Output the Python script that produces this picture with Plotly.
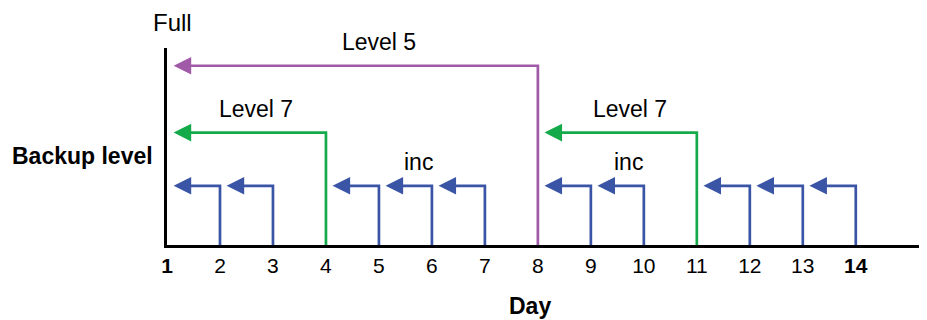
import plotly.graph_objects as go

# backup schedule: day, level it belongs to, and the earlier backup it refers to
days = [2, 3, 4, 5, 6, 7, 8, 9, 10, 11, 12, 13, 14]
kinds = ["inc", "inc", "L7", "inc", "inc", "inc", "L5", "inc", "inc", "L7", "inc", "inc", "inc"]
ref_days = [1, 2, 1, 4, 5, 6, 1, 8, 9, 8, 11, 12, 13]

# bar height of each backup level (Full sits at the top of the axis)
level_height = {"inc": 1.0, "L7": 1.9, "L5": 3.03}
level_color = {"inc": "#3b55a6", "L7": "#14aa4a", "L5": "#a15aa8"}

tick_days = list(range(1, 15))
tick_text = ["<b>1</b>"] + [str(d) for d in range(2, 14)] + ["<b>14</b>"]

# text labels over the arrows
label_text = ["Level 5", "Level 7", "Level 7", "inc", "inc"]
label_x = [5.01, 2.68, 9.73, 5.75, 9.71]
label_kind = ["L5", "L7", "L7", "inc", "inc"]

# page has an 8px body margin, so the figure is sized to fit the window
W, H = 919, 312
L, R, T, B = 159, 5, 40, 75

tip_gap = 0.125
fig = go.Figure()
for d, k, r in zip(days, kinds, ref_days):
    h = level_height[k]
    c = level_color[k]
    tip = r + tip_gap
    fig.add_trace(go.Scatter(x=[d, d, tip + 0.15], y=[0, h, h], mode="lines",
                             line=dict(color=c, width=2.7), hoverinfo="skip",
                             showlegend=False))
    fig.add_annotation(x=tip, y=h, ax=tip + 0.3, ay=h, xref="x", yref="y",
                       axref="x", ayref="y", text="", showarrow=True,
                       arrowhead=2, arrowsize=1.3, arrowwidth=2.7,
                       arrowcolor=c, standoff=0)

for t, x, k in zip(label_text, label_x, label_kind):
    fig.add_annotation(x=x, y=level_height[k], xref="x", yref="y", text=t,
                       showarrow=False, yshift=24, xanchor="center",
                       yanchor="middle", font=dict(size=23, color="black"))

fig.update_layout(
    width=W, height=H,
    margin=dict(l=L, r=R, t=T, b=B, autoexpand=False),
    paper_bgcolor="white", plot_bgcolor="white",
    font=dict(family="Liberation Sans, Arial, sans-serif", color="black"),
    xaxis=dict(range=[1, 15.25], tickmode="array", tickvals=tick_days,
               ticktext=tick_text, showgrid=False, zeroline=False,
               showline=True, linecolor="black", linewidth=3, ticks="",
               tickfont=dict(size=21, color="black"), fixedrange=True),
    yaxis=dict(range=[0, 3.33], showgrid=False, zeroline=False,
               showline=True, linecolor="black", linewidth=3,
               showticklabels=False, ticks="", fixedrange=True),
)

pw, ph = W - L - R, H - T - B


def to_paper(page_x, page_y):
    fx, fy = page_x - 8, page_y - 8
    return (fx - L) / pw, (H - B - fy) / ph


for txt, (xp, yp), size, bold in [("Full", (172.5, 23), 24, False),
                                  ("Backup level", (82.5, 156), 23, True),
                                  ("Day", (529.5, 306), 23, True)]:
    xx, yy = to_paper(xp, yp)
    fig.add_annotation(x=xx, y=yy, xref="paper", yref="paper",
                       xanchor="center", yanchor="middle",
                       text=f"<b>{txt}</b>" if bold else txt, showarrow=False,
                       font=dict(size=size, color="black"))

fig.write_html("out.html")
